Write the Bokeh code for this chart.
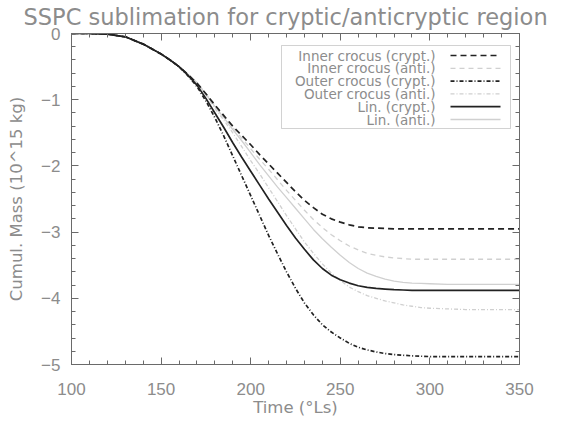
from bokeh.plotting import figure
from bokeh.models import (Range1d, LinearAxis, SingleIntervalTicker, Label, Arrow,
                          BoxAnnotation, CustomLabelingPolicy)
from bokeh.embed import file_html
from bokeh.resources import INLINE

# ---- data ----
ls = [100, 110, 120, 130, 140, 150, 155, 160, 165, 170, 175, 180, 185, 190, 195, 200,
      205, 210, 215, 220, 225, 230, 235, 240, 245, 250, 255, 260, 265, 270, 275, 280,
      285, 290, 295, 300, 310, 320, 330, 340, 350]
common = [0.0, 0.0, -0.01, -0.05, -0.16, -0.31, -0.40, -0.50]

inner_crypt = common + [-0.62, -0.75, -0.91, -1.08, -1.24, -1.40, -1.54, -1.68, -1.83, -1.97, -2.11, -2.25,
                        -2.39, -2.52, -2.63, -2.73, -2.80, -2.85, -2.89, -2.92, -2.935, -2.94, -2.945, -2.95,
                        -2.95, -2.95, -2.95, -2.95, -2.95, -2.95, -2.95, -2.95, -2.95]
inner_anti = common + [-0.62, -0.74, -0.91, -1.08, -1.25, -1.42, -1.58, -1.74, -1.90, -2.05, -2.21, -2.37,
                       -2.52, -2.67, -2.81, -2.93, -3.04, -3.13, -3.21, -3.27, -3.32, -3.35, -3.375, -3.39,
                       -3.40, -3.41, -3.41, -3.41, -3.41, -3.41, -3.41, -3.41, -3.41]
outer_crypt = common + [-0.64, -0.80, -1.02, -1.27, -1.55, -1.85, -2.15, -2.45, -2.75, -3.05, -3.33, -3.60,
                        -3.85, -4.07, -4.25, -4.40, -4.51, -4.60, -4.68, -4.74, -4.78, -4.81, -4.835, -4.85,
                        -4.86, -4.87, -4.875, -4.88, -4.88, -4.88, -4.88, -4.88, -4.88]
outer_anti = common + [-0.62, -0.75, -0.93, -1.13, -1.31, -1.50, -1.71, -1.92, -2.12, -2.33, -2.54, -2.75,
                       -2.95, -3.15, -3.32, -3.48, -3.62, -3.73, -3.83, -3.90, -3.96, -4.00, -4.04, -4.07,
                       -4.10, -4.12, -4.14, -4.15, -4.16, -4.17, -4.17, -4.17, -4.17]
lin_crypt = common + [-0.63, -0.78, -0.98, -1.20, -1.42, -1.65, -1.87, -2.08, -2.29, -2.50, -2.70, -2.90,
                      -3.09, -3.26, -3.42, -3.55, -3.65, -3.72, -3.77, -3.81, -3.835, -3.85, -3.86, -3.87,
                      -3.875, -3.88, -3.88, -3.88, -3.88, -3.88, -3.88, -3.88, -3.88]
lin_anti = common + [-0.62, -0.75, -0.92, -1.10, -1.27, -1.45, -1.62, -1.80, -1.98, -2.15, -2.32, -2.48,
                     -2.64, -2.80, -2.96, -3.10, -3.23, -3.35, -3.46, -3.55, -3.62, -3.67, -3.71, -3.74,
                     -3.76, -3.77, -3.775, -3.78, -3.79, -3.79, -3.79, -3.79, -3.79]

labels = ["Inner crocus (crypt.)", "Inner crocus (anti.)", "Outer crocus (crypt.)",
          "Outer crocus (anti.)", "Lin. (crypt.)", "Lin. (anti.)"]
series = [inner_crypt, inner_anti, outer_crypt, outer_anti, lin_crypt, lin_anti]
title_text = "SSPC sublimation for cryptic/anticryptic region"

DARK = "#222222"
LIGHT = "#d0d0d0"
styles = [
    dict(color=DARK, dash="6 4", width=1.7),
    dict(color=LIGHT, dash="5 4", width=1.3),
    dict(color=DARK, dash="4 2 1 2", width=1.7),
    dict(color=LIGHT, dash="4 2 1 2", width=1.3),
    dict(color=DARK, dash="solid", width=1.7),
    dict(color=LIGHT, dash="solid", width=1.3),
]

TXT = "#8c8c8c"
AX = "#6a6a6a"
FONT = "DejaVu Sans"
TICKFONT = "Liberation Sans"
FW, FH = 448, 331

p = figure(frame_width=FW, frame_height=FH, output_backend="svg", toolbar_location=None,
           x_range=Range1d(100, 350), y_range=Range1d(-5, 0),
           min_border_left=71, min_border_right=40, min_border_top=33, min_border_bottom=49,
           x_axis_type=None, y_axis_type=None)

p.title.text = title_text
p.title.text_font = FONT
p.title.text_font_size = "22.5px"
p.title.text_font_style = "normal"
p.title.text_color = TXT
p.title.text_line_height = 1.0
p.title.align = "left"
p.title.offset = -48
p.title.standoff = 0

p.xgrid.visible = False
p.ygrid.visible = False
p.outline_line_color = AX
p.background_fill_color = "white"
p.border_fill_color = "white"


def make_axis(kind, show_labels):
    t = SingleIntervalTicker(interval=50, num_minor_ticks=5) if kind == "x" else SingleIntervalTicker(interval=1, num_minor_ticks=5)
    ax = LinearAxis(ticker=t)
    ax.axis_line_color = AX
    ax.major_tick_line_color = AX
    ax.minor_tick_line_color = AX
    ax.major_tick_in = 7
    ax.major_tick_out = 0
    ax.minor_tick_in = 4
    ax.minor_tick_out = 0
    if show_labels:
        ax.major_label_text_font = TICKFONT
        ax.major_label_text_font_size = "17px"
        ax.major_label_text_color = TXT
        ax.axis_label_text_font = FONT
        ax.axis_label_text_font_size = "16.5px"
        ax.axis_label_text_font_style = "normal"
        ax.axis_label_text_color = TXT
    else:
        ax.major_label_text_font_size = "1px"
        ax.major_label_standoff = 0
        ax.major_label_policy = CustomLabelingPolicy(code="return []")
    return ax


xb = make_axis("x", True)
xb.axis_label = "Time (°Ls)"
xb.major_label_standoff = 18
xb.axis_label_standoff = 0
p.add_layout(xb, "below")

yl = make_axis("y", True)
yl.axis_label = "Cumul. Mass (10^15 kg)"
yl.major_label_standoff = 11
yl.axis_label_standoff = 12
yl.major_label_overrides = {v: ("0" if v == 0 else "\u2212" + str(-v)) for v in [0, -1, -2, -3, -4, -5]}
p.add_layout(yl, "left")

p.add_layout(make_axis("x", False), "above")
p.add_layout(make_axis("y", False), "right")

# curves (light first, dark on top)
order = [1, 3, 5, 0, 2, 4]
for i in order:
    s = styles[i]
    p.line(ls, series[i], line_color=s["color"], line_dash=s["dash"], line_width=s["width"])

# legend drawn in screen units (frame-relative, y from bottom)
box = BoxAnnotation(left=210, right=439, bottom=236, top=319,
                    left_units="screen", right_units="screen", bottom_units="screen", top_units="screen",
                    fill_color=None, fill_alpha=0, line_color=AX, line_width=1)
p.add_layout(box)
row0 = 309
step = 12.8
for k, lab in enumerate(labels):
    yy = row0 - k * step
    p.add_layout(Label(x=364, y=yy, x_units="screen", y_units="screen", text=lab,
                       text_align="right", text_baseline="middle", text_font=FONT,
                       text_font_size="13.5px", text_color=TXT))
    s = styles[k]
    p.add_layout(Arrow(end=None, x_start=379, y_start=yy, x_end=429, y_end=yy,
                       start_units="screen", end_units="screen",
                       line_color=s["color"], line_dash=s["dash"], line_width=s["width"]))

open("out.html", "w").write(file_html(p, INLINE))
